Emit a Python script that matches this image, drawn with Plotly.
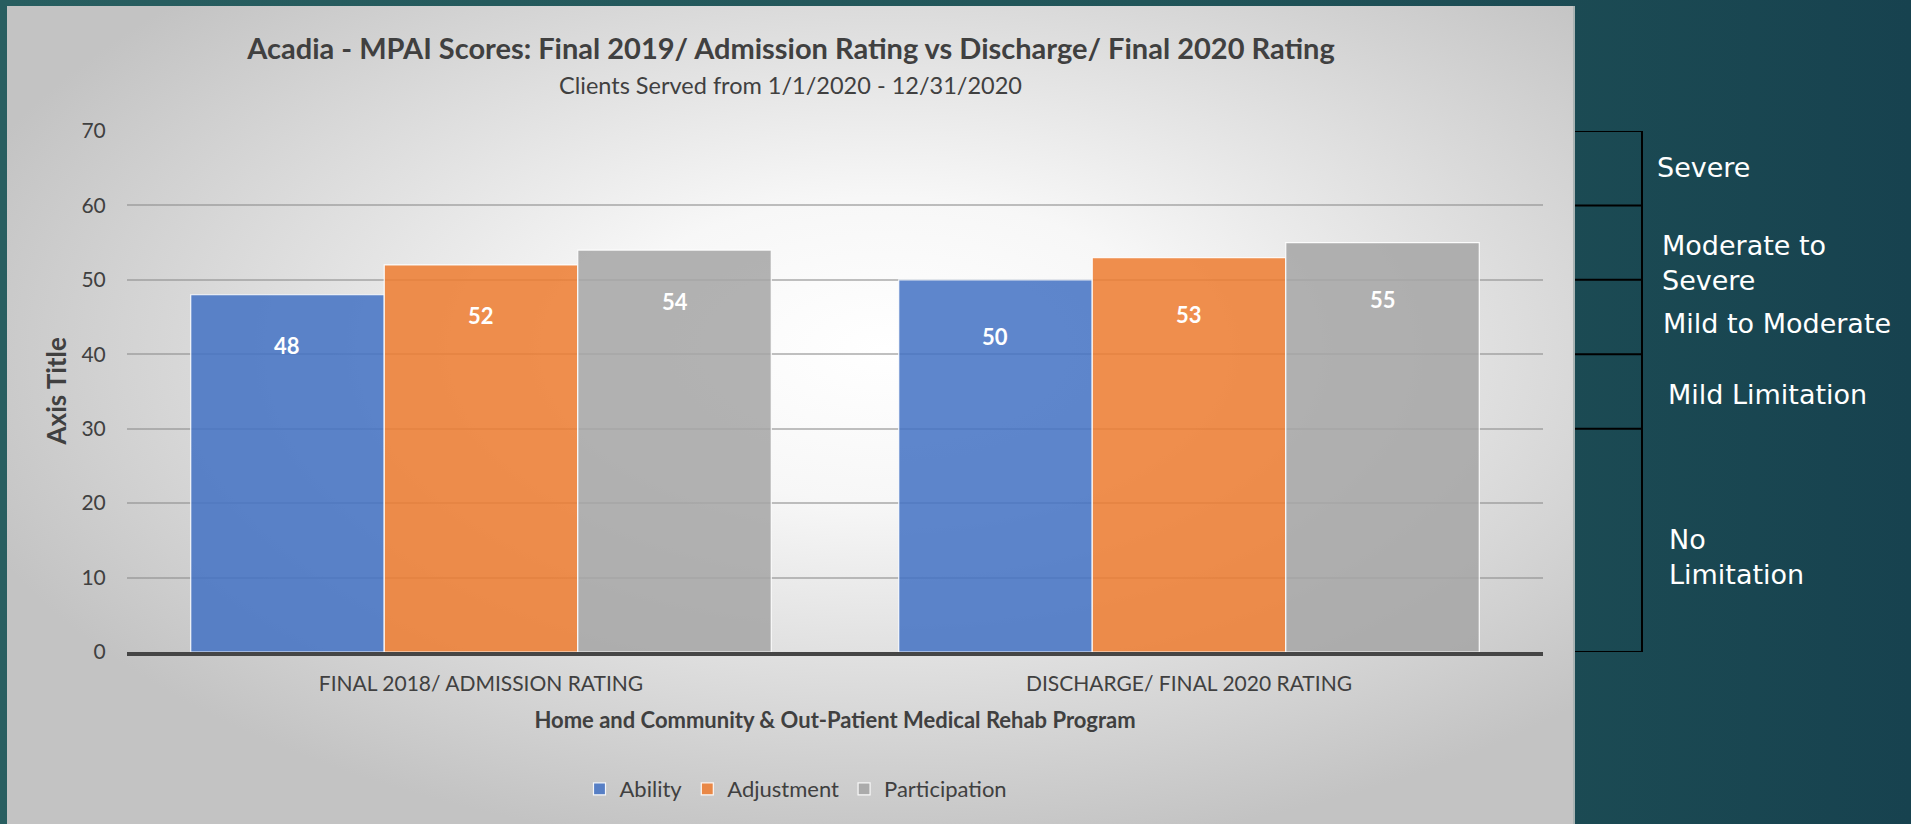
import base64
import plotly.graph_objects as go

# ---------------- data ----------------
categories = ["FINAL 2018/ ADMISSION RATING", "DISCHARGE/ FINAL 2020 RATING"]
series_names = ["Ability", "Adjustment", "Participation"]
ability = [48, 50]
adjustment = [52, 53]
participation = [54, 55]
y_ticks = [0, 10, 20, 30, 40, 50, 60, 70]
band_edges = [0, 30, 40, 50, 60, 70]
band_labels = ["No<br>Limitation", "Mild Limitation", "Mild to Moderate",
               "Moderate to<br>Severe", "Severe"]

title_text = "Acadia - MPAI Scores: Final 2019/ Admission Rating vs Discharge/ Final 2020 Rating"
subtitle_text = "Clients Served from 1/1/2020 - 12/31/2020"
x_title = "Home and Community & Out-Patient Medical Rehab Program"
y_title = "Axis Title"

# ---------------- layout geometry / style ----------------
W, H = 1911, 824
ML, MR, MT, MB = 127, 368, 131, 172
PW, PH = W - ML - MR, H - MT - MB

colors = ["rgba(68,114,196,0.86)", "rgba(237,125,49,0.86)", "rgba(165,165,165,0.86)"]
FONT = "Lato, Carlito, Calibri, sans-serif"
RFONT = "Century Gothic, DejaVu Sans, sans-serif"
TXT = "#404040"

def px_to_paper_x(px):
    return (px - ML) / PW

def px_to_paper_y(py):
    return (H - MB - py) / PH

svg = f"""<svg xmlns='http://www.w3.org/2000/svg' width='{W}' height='{H}' viewBox='0 0 {W} {H}' preserveAspectRatio='none'>
<defs>
<linearGradient id='t' x1='0' y1='0' x2='1' y2='0'>
<stop offset='0' stop-color='#285e60'/><stop offset='0.6' stop-color='#215559'/><stop offset='1' stop-color='#17424f'/>
</linearGradient>
<radialGradient id='p' cx='0.56' cy='0.42' r='0.62'>
<stop offset='0' stop-color='#ffffff'/><stop offset='0.3' stop-color='#f7f7f7'/><stop offset='1' stop-color='#c3c3c3'/>
</radialGradient>
</defs>
<rect x='0' y='0' width='{W}' height='{H}' fill='url(#t)'/>
<rect x='7' y='6' width='1568' height='{H-6}' fill='url(#p)'/>
<rect x='1573' y='6' width='2' height='{H-6}' fill='#a9b3b3'/>
</svg>"""
bg_src = "data:image/svg+xml;base64," + base64.b64encode(svg.encode()).decode()

fig = go.Figure()
for name, vals, col in zip(series_names, [ability, adjustment, participation], colors):
    fig.add_trace(go.Bar(
        x=categories, y=vals, name=name,
        marker=dict(color=col, line=dict(color="rgba(255,255,255,0.9)", width=1.2)),
    ))

# data labels (white bold, inside near top)
bar_px = PW / len(categories) * 0.82 / len(series_names)
label_drop = [-51, -57]
annotations = []
for si, vals in enumerate([ability, adjustment, participation]):
    for ci, v in enumerate(vals):
        annotations.append(dict(
            x=categories[ci], y=v, xref="x", yref="y", text=f"<b>{v}</b>",
            showarrow=False, xshift=(si - 1) * bar_px, yshift=label_drop[ci],
            font=dict(family=FONT, size=22, color="white"),
        ))

# subtitle
annotations.append(dict(
    x=px_to_paper_x(790), y=px_to_paper_y(85), xref="paper", yref="paper",
    xanchor="center", yanchor="middle",
    text=subtitle_text, showarrow=False,
    font=dict(family=FONT, size=23.5, color=TXT),
))

# bracket shapes on the right
shapes = []
x_edge = px_to_paper_x(1575)
x_vert = px_to_paper_x(1642)
for e in band_edges:
    shapes.append(dict(type="line", xref="paper", yref="y", x0=x_edge, x1=x_vert, y0=e, y1=e,
                       line=dict(color="black", width=2)))
shapes.append(dict(type="line", xref="paper", yref="y", x0=x_vert, x1=x_vert,
                   y0=band_edges[0], y1=band_edges[-1], line=dict(color="black", width=2)))

label_shift = [-17, -3, -6, -20, 1]
label_x_px = [1667, 1666, 1661, 1660, 1655]
for i, lab in enumerate(band_labels):
    mid = (band_edges[i] + band_edges[i + 1]) / 2
    annotations.append(dict(
        x=px_to_paper_x(label_x_px[i]), y=mid, xref="paper", yref="y",
        xanchor="left", yanchor="middle", align="left", text=lab, showarrow=False,
        yshift=label_shift[i],
        font=dict(family=RFONT, size=27, color="white"),
    ))

# y-axis title
annotations.append(dict(
    x=px_to_paper_x(55), y=0.5, xref="paper", yref="paper", text="<b>" + y_title + "</b>",
    textangle=-90, showarrow=False, xanchor="center", yanchor="middle",
    font=dict(family=FONT, size=26, color=TXT),
))

fig.update_layout(
    width=W, height=H,
    margin=dict(l=ML, r=MR, t=MT, b=MB, pad=0),
    paper_bgcolor="#215559", plot_bgcolor="rgba(0,0,0,0)",
    barmode="group", bargap=0.18, bargroupgap=0,
    title=dict(text="<b>" + title_text + "</b>", x=791 / W, xref="container", xanchor="center",
               y=1 - 49 / H, yref="container", yanchor="middle",
               font=dict(family=FONT, size=29, color=TXT)),
    xaxis=dict(showline=True, linecolor="#454545", linewidth=3.5, showgrid=False,
               ticks="outside", ticklen=0, tickcolor="rgba(0,0,0,0)",
               ticklabelstandoff=10,
               tickfont=dict(family=FONT, size=21, color=TXT),
               title=dict(text="<b>" + x_title + "</b>", standoff=20,
                          font=dict(family=FONT, size=22, color=TXT)),
               zeroline=False, fixedrange=True),
    yaxis=dict(range=[0, 70], tickvals=y_ticks, showgrid=True, gridcolor="rgba(140,140,140,0.55)",
               gridwidth=1.5, zeroline=False, showline=False,
               ticks="outside", ticklen=0, tickcolor="rgba(0,0,0,0)", ticklabelstandoff=16,
               tickfont=dict(family=FONT, size=21, color=TXT), fixedrange=True),
    legend=dict(orientation="h", x=px_to_paper_x(796), y=px_to_paper_y(789),
                xanchor="center", yanchor="middle", bgcolor="rgba(0,0,0,0)",
                font=dict(family=FONT, size=22, color=TXT), itemwidth=30,
                traceorder="normal"),
    shapes=shapes, annotations=annotations,
    images=[dict(source=bg_src, xref="paper", yref="paper",
                 x=-ML / PW, y=1 + MT / PH, sizex=W / PW, sizey=H / PH,
                 xanchor="left", yanchor="top", sizing="stretch", layer="below")],
    showlegend=True,
)

fig.write_html("out.html", config={"displayModeBar": False},
               post_script="document.body.style.margin='0';document.body.style.overflow='hidden';")
